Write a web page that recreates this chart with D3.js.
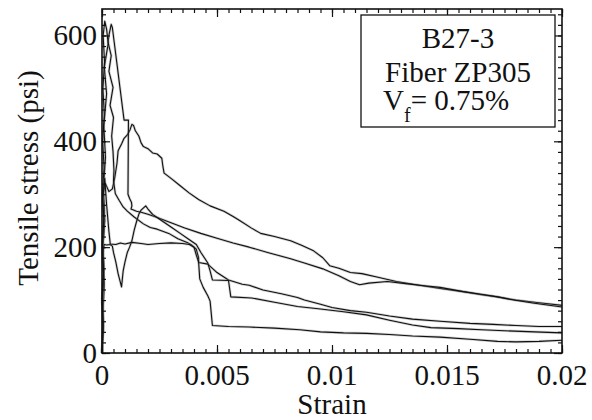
<!DOCTYPE html>
<html>
<head>
<meta charset="utf-8">
<script src="https://cdn.jsdelivr.net/npm/d3@7"></script>
<style>
  @font-face {
    font-family: "PlotSerif";
    src: local("Liberation Serif"), local("LiberationSerif"), local("LiberationSerif-Regular");
  }
  body { margin: 0; background: #fff; }
  .lbl { font-family: "PlotSerif", "Liberation Serif", serif; font-size: 29px; fill: #111; }
</style>
</head>
<body>
<script>
// strain / stress pairs, one array per specimen
var specimen1 = [[0,0],[0.00006,60],[0.00001,110],[0.00009,160],[0.00003,210],[0.0001,260],[0.00005,300],[0.00015,320],
  [0.0003,305],[0.00045,310],[0.00055,330],[0.00065,358],[0.0007,382],[0.00085,395],[0.00095,405],[0.0011,412],[0.00122,422],
  [0.0013,432],[0.00137,430],[0.00145,420],[0.0016,410],[0.0017,397],[0.0018,390],[0.002,386],[0.0022,378],[0.0024,376],
  [0.0026,368],[0.00265,352],[0.0027,340],[0.003,330],[0.0034,316],[0.0038,302],[0.0042,290],[0.0047,278],[0.0053,268],
  [0.0057,258],[0.006,250],[0.0065,236],[0.0069,226],[0.0075,220],[0.0082,212],[0.0087,203],[0.0092,193],[0.0096,180],
  [0.0099,165],[0.0103,160],[0.0108,152],[0.0113,150],[0.012,143],[0.0128,135],[0.0138,128],[0.0147,122],[0.0157,116],
  [0.0165,110],[0.0172,106],[0.018,100],[0.019,95],[0.02,90]];

var specimen2 = [[0,0],[0.00004,70],[0.0001,130],[0.00003,190],[0.00012,250],[0.00006,310],[0.00015,370],[0.00008,430],
  [0.0002,490],[0.0001,540],[0.00025,580],[0.0003,600],[0.0004,621],[0.00045,615],[0.00096,440],[0.00115,440],[0.00113,300],
  [0.0012,292],[0.00128,285],[0.0013,278],[0.00126,272],[0.0015,268],[0.0017,266],[0.002,262],[0.0024,256],[0.003,246],
  [0.0036,236],[0.0043,226],[0.005,217],[0.0057,208],[0.0064,200],[0.0072,190],[0.0082,178],[0.0088,170],[0.0096,159],
  [0.0103,146],[0.0108,135],[0.0112,129],[0.0116,132],[0.0124,135],[0.0132,131],[0.014,127],[0.0147,124],[0.0157,116],
  [0.0165,111],[0.0172,106],[0.0179,100],[0.0188,94],[0.02,87]];

var specimen3 = [[0,0],[0.00005,50],[0,100],[0.00007,150],[0.00001,200],[0.00008,250],[0.00002,300],[0.00009,350],
  [0.00003,400],[0.0001,450],[0.00004,500],[0.00011,550],[0.00005,600],[0.00012,627],[0.0002,612],[0.00026,588],
  [0.0004,562],[0.0003,532],[0.00048,502],[0.00035,468],[0.0005,445],[0.00042,410],[0.00048,380],[0.00052,345],
  [0.0005,326],[0.00058,301],[0.00075,288],[0.00092,276],[0.0011,268],[0.0014,257],[0.0018,244],[0.0021,237],
  [0.0024,234],[0.0029,226],[0.0033,216],[0.0037,209],[0.0039,204],[0.0041,196],[0.0042,180],[0.0042,171],[0.0046,168],
  [0.005,152],[0.0055,138],[0.0061,130],[0.0064,128],[0.007,119],[0.0078,112],[0.0085,105],[0.0088,100],[0.0095,92],
  [0.01,86],[0.0108,80],[0.0115,77],[0.0125,70],[0.0135,64],[0.0147,60],[0.016,56],[0.017,54],[0.018,52],[0.019,50],[0.02,50]];

var specimen4 = [[0,0],[0.00006,45],[0.00001,95],[0.00008,140],[0.00002,180],[0.00009,205],[0.0002,204],[0.00035,205],
  [0.00045,202],[0.0005,190],[0.0006,172],[0.0007,150],[0.00085,125],[0.00092,155],[0.001,172],[0.0011,190],[0.0012,200],
  [0.0013,212],[0.0014,232],[0.0015,248],[0.0016,262],[0.0017,270],[0.0019,278],[0.002,272],[0.0022,262],[0.0026,250],
  [0.003,238],[0.0034,226],[0.0038,214],[0.0041,205],[0.0043,190],[0.0046,170],[0.0047,155],[0.0048,138],[0.0055,137],
  [0.0056,106],[0.0065,104],[0.0075,96],[0.0085,88],[0.0095,83],[0.0105,78],[0.0115,72],[0.0125,62],[0.0135,53],
  [0.0143,48],[0.0155,46],[0.0165,44],[0.0175,42],[0.0188,40],[0.02,38]];

var specimen5 = [[0,0],[0.00005,55],[0.00001,105],[0.00007,155],[0.00002,205],[0.00008,255],[0.00003,290],[0.00012,330],
  [0.0002,280],[0.0003,230],[0.00036,206],[0.0006,205],[0.0008,208],[0.001,206],[0.0013,209],[0.0017,207],[0.002,205],
  [0.0025,207],[0.003,208],[0.0035,207],[0.0038,205],[0.004,200],[0.0041,185],[0.0042,172],[0.00425,140],[0.0044,124],
  [0.0046,108],[0.0047,98],[0.0048,52],[0.0055,50],[0.0064,49],[0.0075,47],[0.0086,44],[0.0095,40],[0.0105,38],
  [0.0115,37],[0.0125,35],[0.0135,32],[0.0147,30],[0.016,26],[0.0172,22],[0.018,21],[0.019,22],[0.02,24]];

var xTicks = [0, 0.005, 0.01, 0.015, 0.02];
var xLabels = ["0", "0.005", "0.01", "0.015", "0.02"];
var yTicks = [0, 200, 400, 600];
var yLabels = ["0", "200", "400", "600"];
var legendLines = ["B27-3", "Fiber ZP305"];

var width = 592;
var height = 420;
var plotLeft = 102, plotRight = 562, plotTop = 9, plotBottom = 353;
var labelStyle = "font-family: 'Liberation Serif'; font-size: 29px; fill: #111";

var svg = d3.select("body").append("svg")
  .attr("width", width)
  .attr("height", height);

var xScale = d3.scaleLinear().domain([0, 0.02]).range([plotLeft, plotRight]);
var yScale = d3.scaleLinear().domain([0, 650]).range([plotBottom, plotTop]);

var xMinor = d3.range(0, 0.02 + 1e-9, 0.0005);
var yMinor = d3.range(0, 650, 20);

// curves
var line = d3.line()
  .x(d => xScale(d[0]))
  .y(d => yScale(d[1]));

var curves = [specimen1, specimen2, specimen3, specimen4, specimen5];
var curveGroup = svg.append("g");
curves.forEach(c => {
  curveGroup.append("path")
    .attr("d", line(c))
    .attr("fill", "none")
    .attr("stroke", "#777")
    .attr("stroke-opacity", 0.35)
    .attr("stroke-width", 2.6)
    .attr("stroke-linejoin", "round");
  curveGroup.append("path")
    .attr("d", line(c))
    .attr("fill", "none")
    .attr("stroke", "#111")
    .attr("stroke-width", 1.1)
    .attr("stroke-linejoin", "round");
});

// ticks only, pointing inward on all four sides
function addTicks(axis, transform, values, size) {
  var g = svg.append("g")
    .attr("transform", transform)
    .call(axis.tickValues(values).tickSizeInner(size).tickSizeOuter(0).tickFormat(""));
  g.select(".domain").remove();
  g.selectAll("text").remove();
  g.attr("font-family", null).attr("font-size", null);
  g.selectAll("line").attr("stroke", "#111").attr("stroke-width", 1.2);
}

addTicks(d3.axisBottom(xScale), "translate(0," + plotBottom + ")", xTicks, -8);
addTicks(d3.axisBottom(xScale), "translate(0," + plotBottom + ")", xMinor, -4);
addTicks(d3.axisTop(xScale), "translate(0," + plotTop + ")", xTicks, -8);
addTicks(d3.axisTop(xScale), "translate(0," + plotTop + ")", xMinor, -4);
addTicks(d3.axisLeft(yScale), "translate(" + plotLeft + ",0)", yTicks, -8);
addTicks(d3.axisLeft(yScale), "translate(" + plotLeft + ",0)", yMinor, -4);
addTicks(d3.axisRight(yScale), "translate(" + plotRight + ",0)", yTicks, -8);
addTicks(d3.axisRight(yScale), "translate(" + plotRight + ",0)", yMinor, -4);

// every label gets the serif face three ways: class, inline style, attribute
function addLabel(parent) {
  return parent.append("text")
    .attr("class", "lbl")
    .attr("font-family", "Liberation Serif")
    .attr("font-size", 29)
    .attr("style", labelStyle);
}

// tick labels placed with the scales
xTicks.forEach((v, i) => {
  addLabel(svg)
    .attr("x", xScale(v))
    .attr("y", 385)
    .attr("text-anchor", "middle")
    .text(xLabels[i]);
});
yTicks.forEach((v, i) => {
  addLabel(svg)
    .attr("x", 97)
    .attr("y", yScale(v) + 10)
    .attr("text-anchor", "end")
    .text(yLabels[i]);
});

// frame
svg.append("rect")
  .attr("x", plotLeft)
  .attr("y", plotTop)
  .attr("width", plotRight - plotLeft)
  .attr("height", plotBottom - plotTop)
  .attr("fill", "none")
  .attr("stroke", "#111")
  .attr("stroke-width", 1.6);

// axis titles
addLabel(svg)
  .attr("x", (plotLeft + plotRight) / 2)
  .attr("y", 414)
  .attr("text-anchor", "middle")
  .text("Strain");

addLabel(svg)
  .attr("transform", "translate(38," + ((plotTop + plotBottom) / 2 - 3) + ") rotate(-90)")
  .attr("text-anchor", "middle")
  .text("Tensile stress (psi)");

// legend box
svg.append("rect")
  .attr("x", 361)
  .attr("y", 15)
  .attr("width", 194)
  .attr("height", 112)
  .attr("fill", "#fff")
  .attr("stroke", "#111")
  .attr("stroke-width", 1.3);

legendLines.forEach((t, i) => {
  addLabel(svg)
    .attr("x", 458)
    .attr("y", 48 + i * 34)
    .attr("text-anchor", "middle")
    .text(t);
});

var vf = addLabel(svg)
  .attr("x", 383)
  .attr("y", 110);
vf.append("tspan").text("V");
vf.append("tspan").attr("dy", 12).attr("style", "font-size: 20px").text("f");
vf.append("tspan").attr("dy", -12).text("= 0.75%");
</script>
</body>
</html>
